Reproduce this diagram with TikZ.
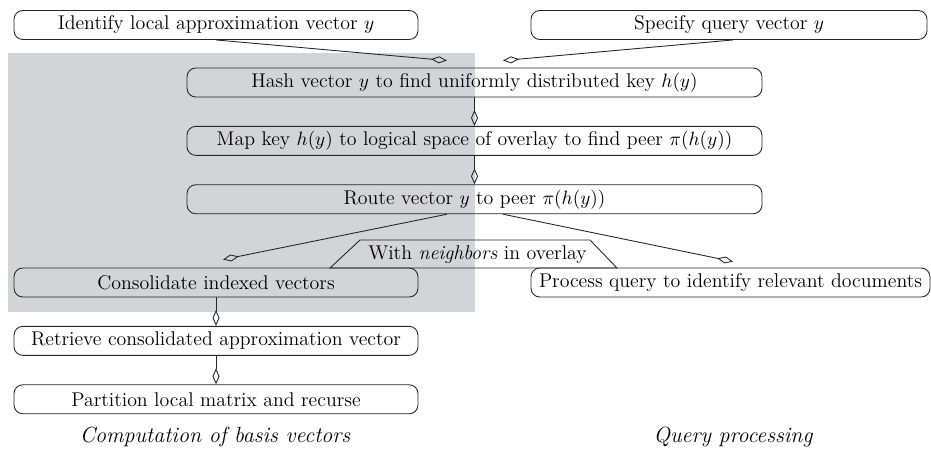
\documentclass[tikz,border=0pt]{standalone}
\usepackage{amsmath,amssymb}
\usepackage{xcolor}
\usepackage{tikz}
\usetikzlibrary{shapes.geometric,arrows.meta,positioning,calc}
\definecolor{bggray}{RGB}{211,212,215}

\begin{document}
\begin{tikzpicture}[
  stage/.style={rectangle, rounded corners=5pt, minimum height=0.58cm,
    inner sep=2pt, draw=black!85, line width=0.5pt, align=center,
    font=\fontsize{11.3}{13.6}\selectfont},
  flow/.style={-{Diamond[open, length=3.2mm, width=1.4mm]}, black!85,
    line width=0.5pt},
  ann/.style={font=\fontsize{12.5}{15}\selectfont\itshape, align=center},
  node distance=0.57cm
]
\useasboundingbox (0,0) rectangle (18.62,-9.06);

% Shaded part
\fill[bggray] (0.16,-1.06) rectangle (9.5,-6.24);

% Top: inputs
\node[stage, minimum width=8.08cm] (ident) at (4.32,-0.5)
  {Identify local approximation vector $y$};
\node[stage, minimum width=7.92cm] (spec) at (14.58,-0.5)
  {Specify query vector $y$};

% Middle: hashing and routing
\node[stage, minimum width=11.5cm] (hash) at (9.49,-1.65)
  {Hash vector $y$ to find uniformly distributed key $h(y)$};
\node[stage, minimum width=11.5cm, below=of hash] (map)
  {Map key $h(y)$ to logical space of overlay to find peer $\pi(h(y))$};
\node[stage, minimum width=11.5cm, below=of map] (route)
  {Route vector $y$ to peer $\pi(h(y))$};

% Left: basis vectors
\node[stage, minimum width=8.08cm] (cons) at (4.32,-5.65)
  {Consolidate indexed vectors};
\node[stage, minimum width=8.08cm, below=of cons] (retr)
  {Retrieve consolidated approximation vector};
\node[stage, minimum width=8.08cm, below=of retr] (part)
  {Partition local matrix and recurse};

% Right: query
\node[stage, minimum width=7.98cm] (proc) at (14.61,-5.65)
  {Process query to identify relevant documents};

% Overlay tab
\node[font=\fontsize{11.3}{13.6}\selectfont, inner sep=0pt] (nbr) at (9.55,-5.1)
  {With \emph{neighbors} in overlay};
\draw[black!85, line width=0.5pt] (6.6,-5.36) -- (7.2,-4.8) -- (11.8,-4.8)
  -- (12.34,-5.36) -- cycle;

% Captions
\node[ann] (lcap) at (4.3,-8.74) {Computation of basis vectors};
\node[ann] (rcap) at (14.66,-8.74) {Query processing};

% Connectors
\draw[flow] (ident.south) -- ([xshift=-0.55cm, yshift=0.14cm]hash.north);
\draw[flow] ([xshift=0.08cm]spec.south) -- ([xshift=0.57cm, yshift=0.14cm]hash.north);
\draw[flow] (hash) -- (map);
\draw[flow] (map) -- (route);
\draw[flow] ([xshift=-0.55cm]route.south) -- ([xshift=0.14cm, yshift=0.16cm]cons.north);
\draw[flow] ([xshift=0.57cm]route.south) -- ([xshift=0.05cm, yshift=0.12cm]proc.north);
\draw[flow] (cons) -- (retr);
\draw[flow] (retr) -- (part);

\end{tikzpicture}
\end{document}
